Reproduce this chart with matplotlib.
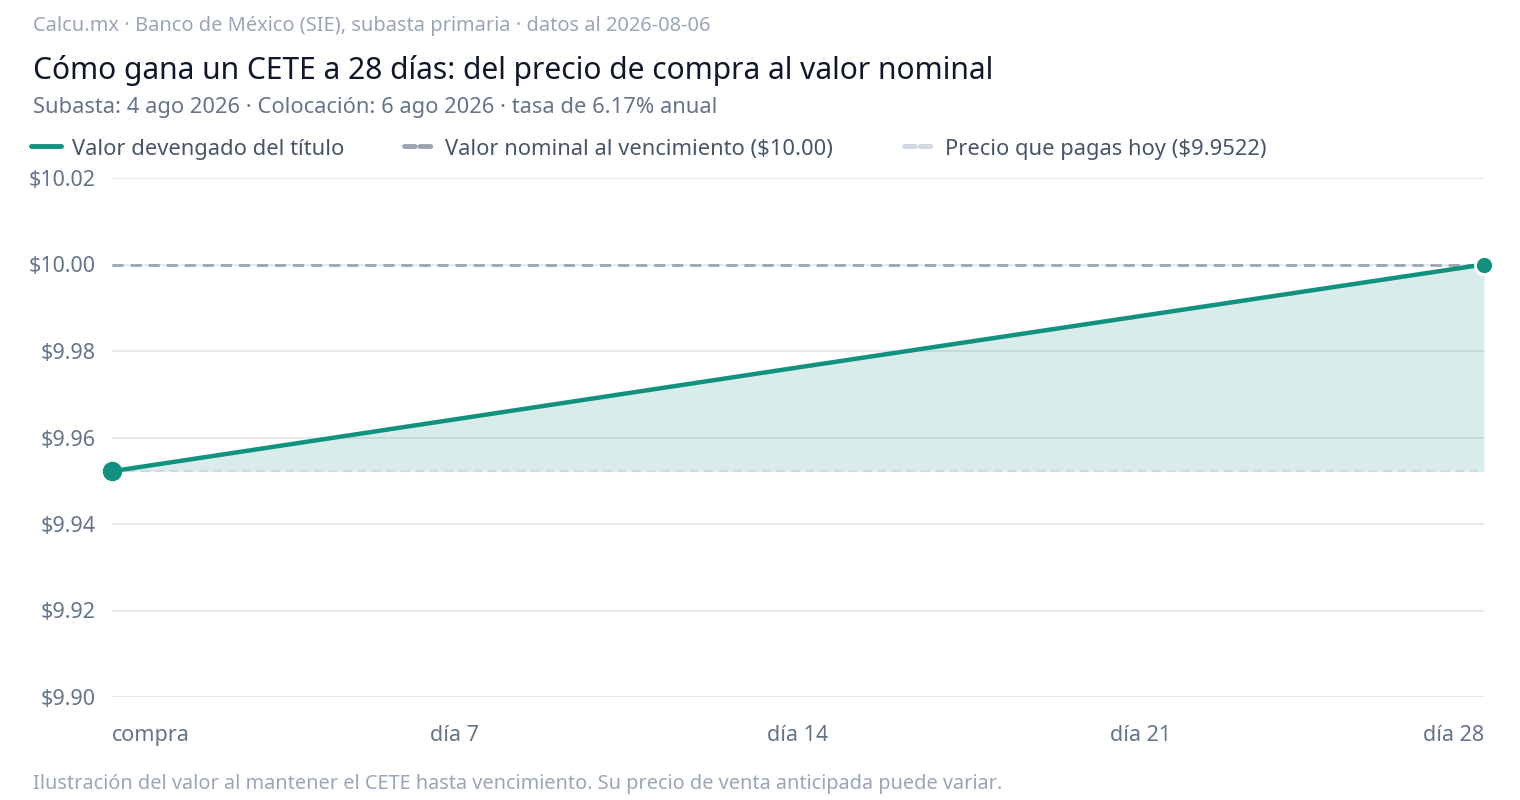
import matplotlib
matplotlib.use("Agg")
import matplotlib.pyplot as plt
from matplotlib.lines import Line2D

plt.rcParams['font.family'] = ['Noto Sans', 'DejaVu Sans']

# datos
dias = [0, 7, 14, 21, 28]
valor = [9.9522, 9.9642, 9.9762, 9.9881, 10.00]
nominal = 10.00
precio = 9.9522
xtick_pos = [0, 7, 14, 21, 28]
xtick_lab = ["compra", "día 7", "día 14", "día 21", "día 28"]
ytick_pos = [9.90, 9.92, 9.94, 9.96, 9.98, 10.00, 10.02]

TEAL = "#11917f"
NOM = "#9ca3b4"
PRE = "#cfd8e3"
GRID = "#e3e7ef"

fig = plt.figure(figsize=(15.2, 8), dpi=100)
ax = fig.add_axes([112/1520, 1-697/800, (1484-112)/1520, (697-178)/800])

ax.fill_between(dias, precio, valor, color=TEAL, alpha=0.16, lw=0)
ax.axhline(nominal, color=NOM, lw=2, ls=(0, (4, 2.5)), zorder=3)
ax.axhline(precio, color=PRE, lw=1.6, ls=(0, (4, 2.5)), zorder=3)
ax.plot(dias, valor, color=TEAL, lw=3.2, zorder=4, solid_capstyle='round')
ax.plot(dias[0], valor[0], 'o', ms=13, color=TEAL, mec=TEAL, zorder=5, clip_on=False)
ax.plot(dias[-1], valor[-1], 'o', ms=13, color=TEAL, mec='white', mew=2, zorder=5, clip_on=False)

ax.set_xlim(0, 28)
ax.set_ylim(9.90, 10.02)
ax.set_yticks(ytick_pos)
ax.set_yticklabels([f"${v:.2f}" for v in ytick_pos])
ax.set_xticks(xtick_pos)
ax.set_xticklabels(xtick_lab)
for i, t in enumerate(ax.get_xticklabels()):
    if i == 0:
        t.set_ha('left')
    elif i == len(xtick_lab) - 1:
        t.set_ha('right')
ax.tick_params(axis='both', length=0, labelsize=15.5, labelcolor="#64748b")
ax.tick_params(axis='x', pad=20)
ax.tick_params(axis='y', pad=11.5)
ax.grid(axis='y', color=GRID, lw=1.3)
ax.set_axisbelow(True)
for s in ax.spines.values():
    s.set_visible(False)

fig.text(33/1520, 1-26/800, "Calcu.mx · Banco de México (SIE), subasta primaria · datos al 2026-08-06",
         color="#9aa6b8", fontsize=14.4, va='center')
fig.text(33/1520, 1-70/800, "Cómo gana un CETE a 28 días: del precio de compra al valor nominal",
         color="#0f172a", fontsize=21.6, va='center')
fig.text(33/1520, 1-107/800, "Subasta: 4 ago 2026 · Colocación: 6 ago 2026 · tasa de 6.17% anual",
         color="#64748b", fontsize=15.8, va='center')
fig.text(33/1520, 1-784/800, "Ilustración del valor al mantener el CETE hasta vencimiento. Su precio de venta anticipada puede variar.",
         color="#9aa6b8", fontsize=14.35, va='center')

# leyenda
ly = 1 - 146/800
ty = 1 - 149/800
items = [
    (31, 72, dict(color=TEAL, lw=3.5, ls='-'), "Valor devengado del título"),
    (404, 445, dict(color=NOM, lw=3.5, ls=(0, (2.2, 1))), "Valor nominal al vencimiento ($10.00)"),
    (904, 945, dict(color=PRE, lw=3.5, ls=(0, (2.2, 1))), "Precio que pagas hoy ($9.9522)"),
]
for x0, xt, st, lab in items:
    fig.add_artist(Line2D([x0/1520, (x0+30)/1520], [ly, ly], transform=fig.transFigure,
                          solid_capstyle='round', dash_capstyle='round', **st))
    fig.text(xt/1520, ty, lab, color="#475569", fontsize=15.8, va='center')

fig.savefig("out.png", dpi=100, facecolor='white')
